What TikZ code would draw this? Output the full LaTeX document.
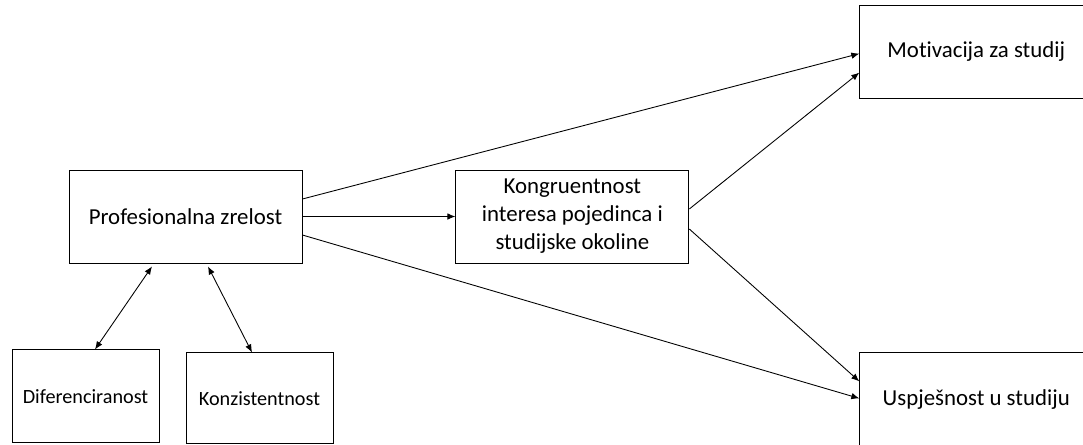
\documentclass[tikz,border=0pt]{standalone}
\usepackage{fontspec}
\setmainfont{Carlito}[Ligatures=NoCommon]
\usetikzlibrary{positioning, arrows.meta}

\tikzset{
	factor/.style={draw, line width=0.5pt, minimum width=4.66cm, minimum height=1.86cm, inner sep=0pt, font=\fontsize{13}{16}\selectfont, align=center},
	subfactor/.style={draw, line width=0.5pt, minimum width=2.94cm, minimum height=1.86cm, inner sep=0pt, font=\fontsize{11.5}{13}\selectfont},
	path/.style={line width=0.5pt, -{Latex[length=1.6mm, width=1.3mm]}},
	link/.style={line width=0.5pt, {Latex[length=1.6mm, width=1.3mm]}-{Latex[length=1.6mm, width=1.3mm]}}
}

\begin{document}
\begin{tikzpicture}[node distance = 3.06cm]
			\clip (-3.71,4.33) rectangle (17.95,-4.55);
			\node[factor] (prof) {Profesionalna zrelost};
			\node[factor, right = of prof] (kong) {Kongruentnost\\interesa pojedinca i\\studijske okoline};
			\node[factor, above right = 1.42cm and 3.4cm of kong] (motiv) {Motivacija za studij};
			\node[factor, below right = 1.78cm and 3.4cm of kong] (usp) {Uspješnost u studiju};
			\node[subfactor, below = 1.72cm of prof, xshift=-2cm] (dif) {Diferenciranost};
			\node[subfactor, below = 1.78cm of prof, xshift=1.48cm, minimum height=1.82cm] (konz) {Konzistentnost};
			
			\draw[path] ([yshift=0.35cm]prof.east) -- ([yshift=-0.04cm]motiv.west);
			\draw[path] (prof.east) -- (kong.west);
			\draw[path] ([yshift=-0.37cm]prof.east) -- ([yshift=0.02cm]usp.west);
			\draw[path] ([yshift=0.15cm]kong.east) -- ([yshift=-0.42cm]motiv.west);
			\draw[path] ([yshift=-0.25cm]kong.east) -- ([yshift=0.36cm]usp.west);
			\draw[link] ([xshift=-0.67cm, yshift=-0.06cm]prof.south) -- ([xshift=0.19cm]dif.north);
			\draw[link] ([xshift=0.45cm, yshift=-0.06cm]prof.south) -- ([xshift=-0.15cm]konz.north);
		\end{tikzpicture}
\end{document}
